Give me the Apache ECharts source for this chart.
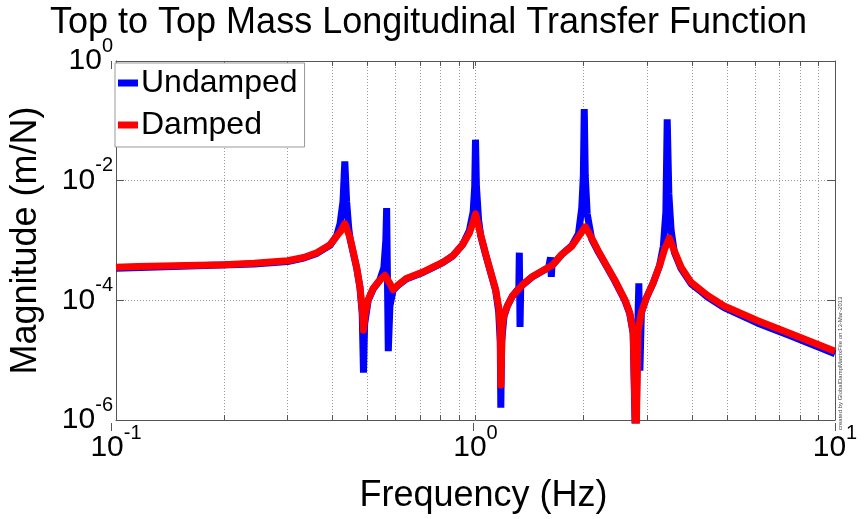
<!DOCTYPE html>
<html>
<head>
<meta charset="utf-8">
<script src="https://cdn.jsdelivr.net/npm/echarts@6/dist/echarts.min.js"></script>
<style>
  html, body { margin: 0; padding: 0; background: #ffffff; }
  #chart { width: 866px; height: 519px; }
</style>
</head>
<body>
<div id="chart"></div>
<script>
// Undamped response: frequency (Hz) and magnitude (m/N)
const freqUndamped = [0.1, 0.242, 0.3, 0.333, 0.362, 0.394, 0.411, 0.420, 0.428, 0.433, 0.438, 0.444, 0.448,
  0.467, 0.477, 0.484, 0.488, 0.4915, 0.503, 0.5195, 0.542, 0.556, 0.563, 0.566, 0.572, 0.578, 0.59,
  0.609, 0.642, 0.714, 0.761, 0.811, 0.864, 0.921, 0.961, 0.985, 0.995, 1.0, 1.006, 1.02, 1.034,
  1.068, 1.102, 1.138, 1.16, 1.172, 1.176, 1.182, 1.2, 1.226, 1.266, 1.32, 1.324, 1.330, 1.336,
  1.349, 1.437, 1.598, 1.612, 1.617, 1.625, 1.632, 1.739, 1.853, 1.934, 1.975, 1.995, 2.007, 2.02,
  2.045, 2.105, 2.197, 2.315, 2.442, 2.602, 2.685, 2.745, 2.79, 2.825, 2.847, 2.866, 2.893, 2.987,
  3.117, 3.251, 3.33, 3.385, 3.414, 3.45, 3.5, 3.575, 3.731, 3.977, 4.239, 4.42, 4.913, 6.076,
  7.51, 10];
const magUndamped = [3.45e-4, 4.05e-4, 4.45e-4, 5.1e-4, 6.1e-4, 8.3e-4, 1.2e-3, 1.9e-3, 4.5e-3, 2.1e-2, 4.5e-3, 1.6e-3, 1.05e-3,
  3.5e-4, 1.65e-4, 6e-5, 6.2e-6, 4e-5, 1.0e-4, 1.55e-4, 2.2e-4, 3.5e-4, 1.0e-3, 3.48e-3, 1.41e-5, 8e-5, 1.48e-4,
  1.78e-4, 2.28e-4, 2.93e-4, 3.53e-4, 4.27e-4, 5.5e-4, 8.6e-4, 1.45e-3, 3.0e-3, 8e-3, 4.84e-2, 8e-3, 2.2e-3, 1.2e-3,
  5.7e-4, 2.9e-4, 1.45e-4, 6.5e-5, 2e-5, 1.6e-6, 2e-5, 5.4e-5, 8e-5, 1.17e-4, 1.6e-4, 6.26e-4, 3.59e-5, 1.7e-4,
  1.8e-4, 2.45e-4, 3.55e-4, 3.7e-4, 5.2e-4, 2.47e-4, 3.8e-4, 5.85e-4, 8.2e-4, 1.3e-3, 3.5e-3, 1.2e-2, 0.158, 1.2e-2,
  2.8e-3, 1.05e-3, 6.4e-4, 3.7e-4, 2.1e-4, 1.0e-4, 6.0e-5, 2.8e-5, 3e-7, 3e-5, 1.92e-4, 6.7e-6, 6.2e-5, 1.1e-4,
  1.92e-4, 3.8e-4, 8e-4, 3e-3, 0.106, 6e-3, 1.5e-3, 6.3e-4, 3.4e-4, 1.9e-4, 1.4e-4, 1.14e-4, 7.6e-5, 4.2e-5,
  2.55e-5, 1.28e-5];

// Damped response
const freqDamped = [0.1, 0.115, 0.2, 0.242, 0.3, 0.333, 0.362, 0.394, 0.411, 0.422, 0.433, 0.448,
  0.467, 0.477, 0.485, 0.488, 0.4927, 0.503, 0.5195, 0.542, 0.56, 0.5777, 0.59, 0.609, 0.642,
  0.714, 0.761, 0.811, 0.864, 0.921, 0.961, 0.985, 1.0, 1.034, 1.068, 1.102, 1.138, 1.163,
  1.172, 1.176, 1.187, 1.2, 1.226, 1.266, 1.349, 1.437, 1.598, 1.632, 1.739, 1.853, 1.934, 2.02,
  2.105, 2.197, 2.315, 2.442, 2.602, 2.685, 2.745, 2.793, 2.832, 2.893, 2.987, 3.117, 3.251,
  3.356, 3.46, 3.575, 3.731, 3.977, 4.239, 4.42, 4.913, 6.076, 7.51, 10];
const magDamped = [3.58e-4, 3.66e-4, 3.94e-4, 4.16e-4, 4.58e-4, 5.2e-4, 6.26e-4, 8.53e-4, 1.18e-3, 1.44e-3, 1.92e-3, 1.10e-3,
  3.58e-4, 1.70e-4, 6.28e-5, 3.17e-5, 5.55e-5, 1.03e-4, 1.59e-4, 2.17e-4, 2.62e-4, 1.92e-4, 1.5e-4, 1.80e-4, 2.31e-4,
  2.97e-4, 3.58e-4, 4.31e-4, 5.52e-4, 8.53e-4, 1.32e-3, 2.03e-3, 2.78e-3, 1.24e-3, 5.87e-4, 2.97e-4, 1.5e-4, 7.1e-5,
  3.3e-5, 3.83e-6, 3.82e-5, 5.55e-5, 8.05e-5, 1.17e-4, 1.8e-4, 2.47e-4, 3.58e-4, 3.8e-4, 5.87e-4, 8.0e-4, 1.16e-3, 1.69e-3,
  1.1e-3, 6.65e-4, 3.8e-4, 2.17e-4, 1.03e-4, 6.28e-5, 2.98e-5, 3e-7, 2.98e-5, 6.28e-5, 1.1e-4, 1.92e-4, 3.8e-4,
  7.08e-4, 1.1e-3, 6.65e-4, 3.58e-4, 2.0e-4, 1.48e-4, 1.21e-4, 8.05e-5, 4.6e-5, 2.79e-5, 1.41e-5];

// Axis ticks
const xDecades = [0.1, 1, 10];
const xGridTicks = [0.1, 0.2, 0.3, 0.4, 0.5, 0.6, 0.7, 0.8, 0.9, 1, 2, 3, 4, 5, 6, 7, 8, 9, 10];
const yTicks = [1e-6, 1e-4, 1e-2, 1];

const seriesNames = ['Undamped', 'Damped'];
const titleText = 'Top to Top Mass Longitudinal Transfer Function';
const xName = 'Frequency (Hz)';
const yName = 'Magnitude (m/N)';
const creditText = 'created by GlobalDampMatrixFile on 13-Mar-2013';

const FONT = 'Liberation Sans';
const AXIS_COLOR = '#555555';

function pairs(xs, ys) { return xs.map((x, i) => [x, ys[i]]); }

function powerLabel(v) {
  const e = Math.round(Math.log10(v));
  return '{b|10}{e|' + e + '}';
}
const powerRich = {
  b: { fontSize: 30, fontFamily: FONT, color: '#000' },
  e: { fontSize: 20, fontFamily: FONT, color: '#000', padding: [0, 0, 30, 0] }
};

const gridRect = { left: 111, right: 31, top: 61, bottom: 88 };

const chart = echarts.init(document.getElementById('chart'), null, { renderer: 'canvas' });

chart.setOption({
  animation: false,
  backgroundColor: '#ffffff',
  title: {
    text: titleText,
    left: 45,
    top: 0,
    textStyle: { fontFamily: FONT, fontSize: 36, fontWeight: 'normal', color: '#000' }
  },
  legend: {
    data: seriesNames,
    orient: 'vertical',
    left: 115,
    top: 63,
    padding: [3, 7, 5, 3],
    itemGap: 8,
    itemWidth: 20,
    itemHeight: 7,
    icon: 'rect',
    backgroundColor: '#ffffff',
    borderColor: '#999999',
    borderWidth: 1,
    borderRadius: 0,
    textStyle: { fontFamily: FONT, fontSize: 32, lineHeight: 34, color: '#000', padding: [0, 0, 0, -2] }
  },
  grid: [
    Object.assign({ containLabel: false }, gridRect),
    Object.assign({ containLabel: false }, gridRect)
  ],
  xAxis: [
    {
      type: 'log', logBase: 10, min: 0.1, max: 10, gridIndex: 0, position: 'bottom',
      name: xName, nameLocation: 'middle', nameGap: 58,
      nameTextStyle: { fontFamily: FONT, fontSize: 36, color: '#000', padding: [0, 0, 0, 16] },
      axisLine: { show: true, lineStyle: { color: AXIS_COLOR, width: 1 } },
      axisTick: { show: true, inside: true, length: 5, customValues: xGridTicks, lineStyle: { color: AXIS_COLOR } },
      axisLabel: { show: true, customValues: xDecades, margin: 3, formatter: powerLabel, rich: powerRich },
      splitLine: { show: true, lineStyle: { type: [1, 2], color: '#9a9a9a', width: 1 } },
      minorTick: { show: false }
    },
    {
      type: 'log', logBase: 10, min: 0.1, max: 10, gridIndex: 0, position: 'top',
      axisLine: { show: true, lineStyle: { color: AXIS_COLOR, width: 1 } },
      axisTick: { show: true, inside: true, length: 5, customValues: xGridTicks, lineStyle: { color: AXIS_COLOR } },
      axisLabel: { show: false },
      splitLine: { show: false }
    },
    {
      type: 'log', logBase: 10, min: 0.1, max: 10, gridIndex: 1, position: 'bottom',
      axisLine: { show: false },
      axisTick: { show: true, inside: true, length: 8, customValues: xDecades, lineStyle: { color: AXIS_COLOR } },
      axisLabel: { show: false },
      splitLine: { show: false }
    },
    {
      type: 'log', logBase: 10, min: 0.1, max: 10, gridIndex: 1, position: 'top',
      axisLine: { show: false },
      axisTick: { show: true, inside: true, length: 8, customValues: xDecades, lineStyle: { color: AXIS_COLOR } },
      axisLabel: { show: false },
      splitLine: { show: false }
    }
  ],
  yAxis: [
    {
      type: 'log', logBase: 10, min: 1e-6, max: 1, gridIndex: 0, position: 'left',
      name: yName, nameLocation: 'middle', nameGap: 72, nameRotate: 90,
      nameTextStyle: { fontFamily: FONT, fontSize: 36, color: '#000' },
      axisLine: { show: true, lineStyle: { color: AXIS_COLOR, width: 1 } },
      axisTick: { show: true, inside: true, length: 8, customValues: yTicks, lineStyle: { color: AXIS_COLOR } },
      axisLabel: { show: true, customValues: yTicks, margin: 3, formatter: powerLabel, rich: powerRich },
      splitLine: { show: true, lineStyle: { type: [1, 2], color: '#9a9a9a', width: 1 } }
    },
    {
      type: 'log', logBase: 10, min: 1e-6, max: 1, gridIndex: 0, position: 'right',
      axisLine: { show: true, lineStyle: { color: AXIS_COLOR, width: 1 } },
      axisTick: { show: true, inside: true, length: 8, customValues: yTicks, lineStyle: { color: AXIS_COLOR } },
      axisLabel: { show: false },
      splitLine: { show: false }
    },
    {
      type: 'log', logBase: 10, min: 1e-6, max: 1, gridIndex: 1, show: false
    },
    {
      type: 'log', logBase: 10, min: 1e-6, max: 1, gridIndex: 1, show: false, position: 'right'
    }
  ],
  series: [
    {
      name: seriesNames[0], type: 'line', xAxisIndex: 0, yAxisIndex: 0,
      data: pairs(freqUndamped, magUndamped),
      showSymbol: false, symbol: 'none', clip: true, z: 2,
      itemStyle: { color: '#0000ff' },
      lineStyle: { color: '#0000ff', width: 7, join: 'bevel' }
    },
    {
      name: seriesNames[1], type: 'line', xAxisIndex: 0, yAxisIndex: 0,
      data: pairs(freqDamped, magDamped),
      showSymbol: false, symbol: 'none', clip: true, z: 3,
      itemStyle: { color: '#ff0000' },
      lineStyle: { color: '#ff0000', width: 7, join: 'round' }
    }
  ],
  graphic: [
    {
      type: 'text',
      x: 840, y: 430,
      rotation: Math.PI / 2,
      style: { text: creditText, fontFamily: FONT, fontSize: 6, fill: '#444', textVerticalAlign: 'middle' }
    }
  ]
});
</script>
</body>
</html>
